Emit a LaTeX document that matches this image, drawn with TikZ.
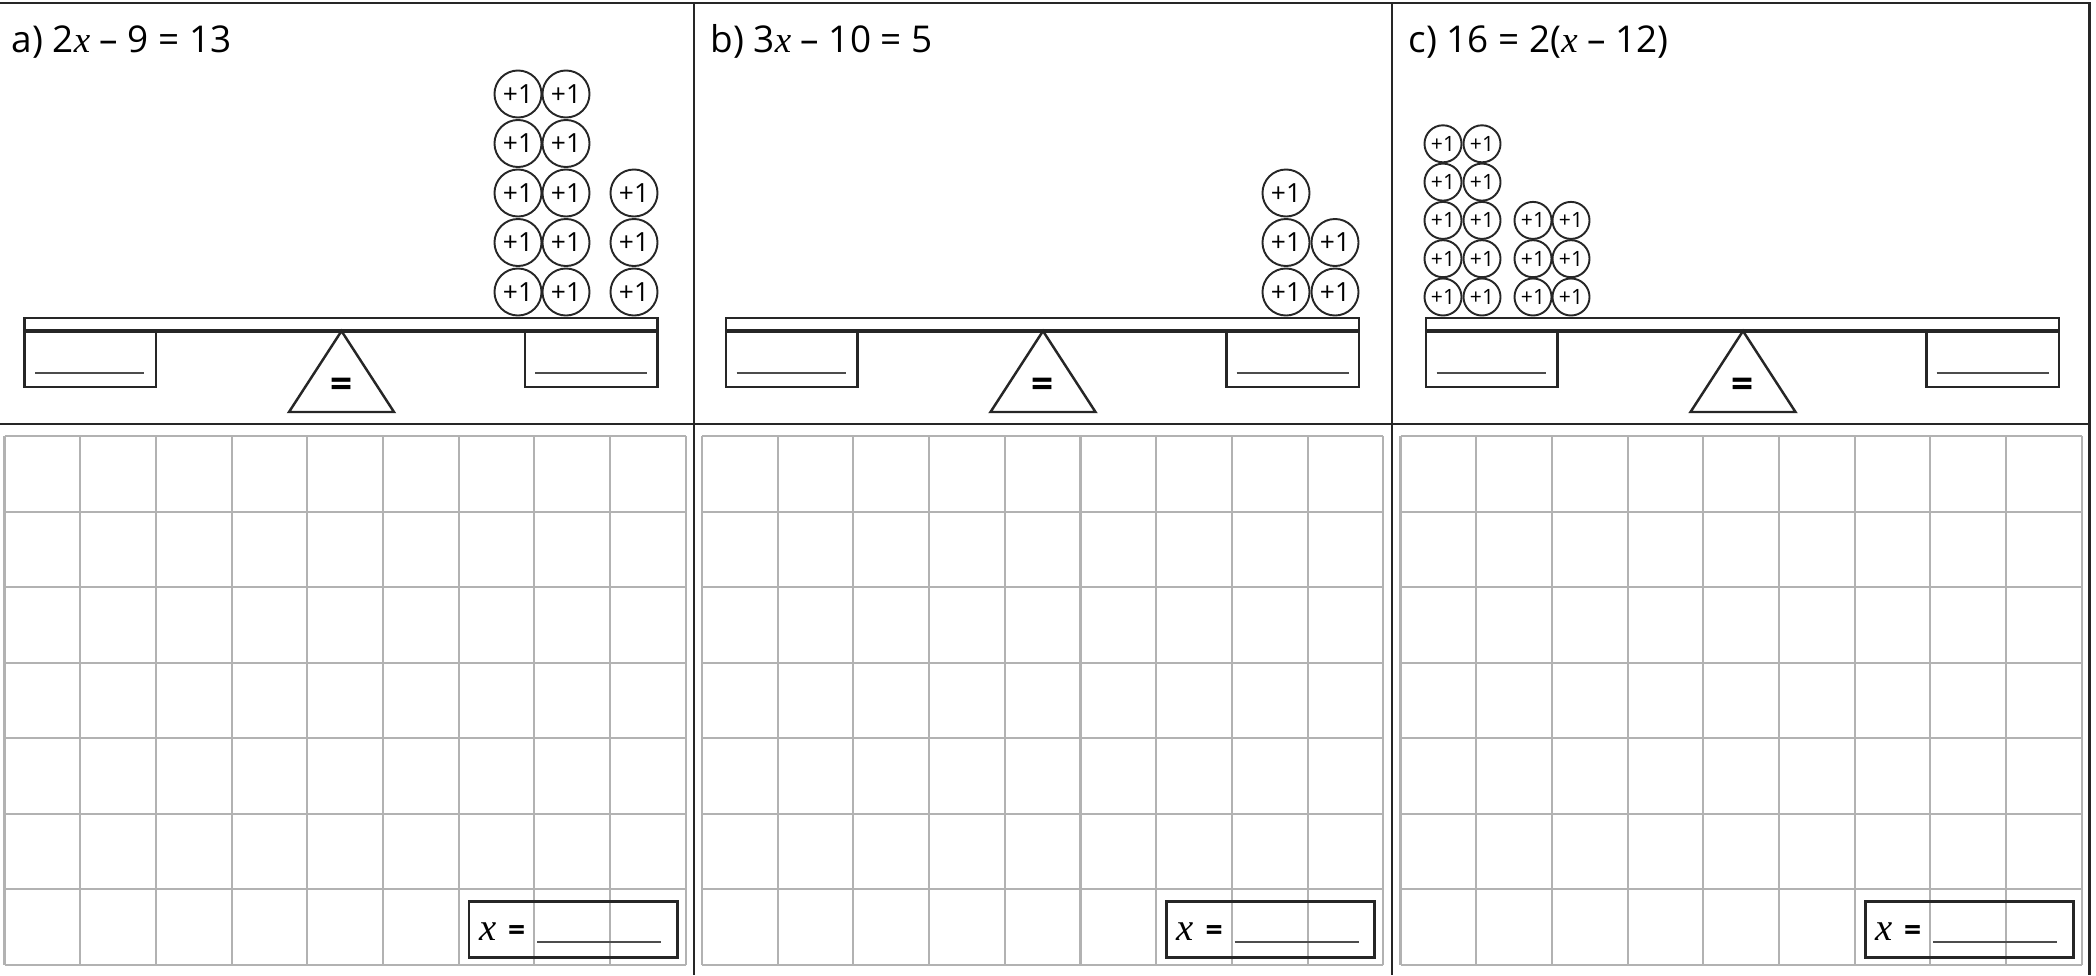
\documentclass[tikz,border=0pt]{standalone}
\usepackage{fontspec}
\setmainfont{Open Sans}
\newfontfamily\varfont{Liberation Serif}
\usetikzlibrary{positioning}

\newcommand{\xvar}{{\varfont\itshape x}}

\begin{document}
\begin{tikzpicture}[
  x=0.01cm, y=-0.01cm,
  frame/.style={draw=black!85, line width=0.75pt},
  gridline/.style={draw=black!30, line width=0.6pt},
  unit/.style={circle, draw=black!85, line width=0.55pt, inner sep=0pt,
    minimum size=0.47cm, font=\fontsize{7.5}{7.5}\selectfont},
  smallunit/.style={unit, minimum size=0.37cm, font=\fontsize{6}{6}\selectfont},
  title/.style={anchor=base west, inner sep=0pt, font=\fontsize{10.5}{12}\selectfont},
  pan/.style={draw=black!85, line width=0.7pt},
  blank/.style={draw=black!70, line width=0.45pt},
  answer/.style={draw=black!85, line width=0.85pt}
]
  \useasboundingbox (0,0) rectangle (2096,975);

  % squared paper for working
  \foreach \g in {4.5,702,1400.5} {
    \foreach \k in {0,...,9}
      \draw[gridline] (\g+\k*75.7,436) -- (\g+\k*75.7,965);
    \foreach \k in {0,...,7}
      \draw[gridline] (\g,436+\k*75.57) -- (\g+681.3,436+\k*75.57);
  }

  % outer frame and panel dividers
  \draw[frame] (0,3) -- (2089.5,3) -- (2089.5,975);
  \draw[frame] (0,424) -- (2089.5,424);
  \draw[frame] (694,3) -- (694,975);
  \draw[frame] (1392,3) -- (1392,975);

  % titles
  \node[title] (ta) at (11,52) {a)\ 2\xvar\ – 9 = 13};
  \node[title] (tb) at (710,52) {b)\ 3\xvar\ – 10 = 5};
  \node[title] (tc) at (1408,52) {c)\ 16 = 2(\xvar\ – 12)};

  % balances
  \foreach \off/\n in {0/a,701.5/b,1401.5/c} {
    \begin{scope}[shift={(\off,0)}]
      \draw[pan] (24.5,318) rectangle (657.5,331);
      \draw[pan, line width=1.2pt] (24.5,331) -- (657.5,331);
      \draw[pan] (24.5,331) rectangle (156,387);
      \draw[pan] (525,331) rectangle (657.5,387);
      \draw[blank] (35,373) -- (144,373);
      \draw[blank] (535,373) -- (647,373);
      \draw[pan] (289,412) -- (341.5,331) -- (394,412) -- cycle;
      \node[inner sep=0pt, font=\fontsize{11}{11}\selectfont\bfseries] (eq\n) at (341.5,388) {=};
    \end{scope}
  }

  % a) ones on the right pan
  \foreach \c/\x/\h in {1/518/5,2/566/5,3/634/3}
    \foreach \r in {1,...,\h}
      \node[unit] (a-\c-\r) at (\x,{292-49.5*(\r-1)}) {+1};

  % b) ones on the right pan
  \foreach \c/\x/\h in {1/1286/3,2/1335/2}
    \foreach \r in {1,...,\h}
      \node[unit] (b-\c-\r) at (\x,{292-49.5*(\r-1)}) {+1};

  % c) ones on the left pan
  \foreach \c/\x/\h in {1/1443/5,2/1482/5,3/1533/3,4/1571/3}
    \foreach \r in {1,...,\h}
      \node[smallunit] (c-\c-\r) at (\x,{297-38.3*(\r-1)}) {+1};

  % answer boxes
  \foreach \g/\n in {4.5/a,702/b,1400.5/c} {
    \begin{scope}[shift={(\g,0)}]
      \draw[answer] (464.5,901) rectangle (672.5,957);
      \node[anchor=base west, inner sep=0pt, font=\fontsize{11}{12}\selectfont] (ans\n) at (474,940) {\xvar};
      \node[anchor=base west, inner sep=0pt, font=\fontsize{8.5}{10}\selectfont\bfseries] (ansq\n) at (503,940) {=};
      \draw[blank] (532.5,942) -- (656.5,942);
    \end{scope}
  }
\end{tikzpicture}
\end{document}
